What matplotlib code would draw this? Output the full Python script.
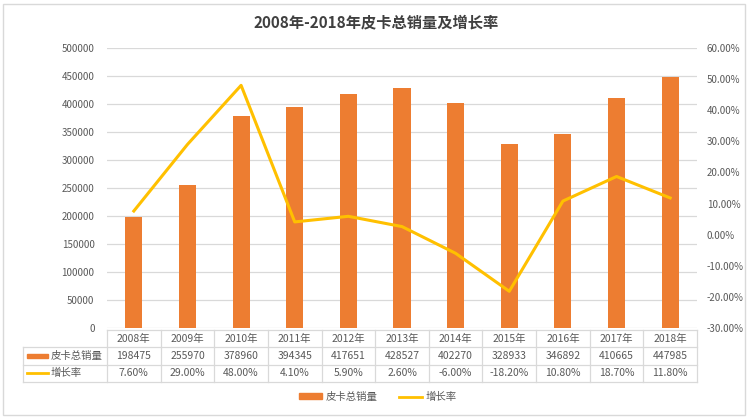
import matplotlib
matplotlib.use("Agg")
import matplotlib.pyplot as plt
from matplotlib.patches import Rectangle
from matplotlib.lines import Line2D

plt.rcParams['font.family'] = ['Noto Sans CJK SC', 'DejaVu Sans']

years = ['2008年', '2009年', '2010年', '2011年', '2012年', '2013年',
         '2014年', '2015年', '2016年', '2017年', '2018年']
sales = [198475, 255970, 378960, 394345, 417651, 428527,
         402270, 328933, 346892, 410665, 447985]
growth = [7.60, 29.00, 48.00, 4.10, 5.90, 2.60, -6.00, -18.20, 10.80, 18.70, 11.80]
bar_name = '皮卡总销量'
line_name = '增长率'
title = '2008年-2018年皮卡总销量及增长率'

W, H = 750, 419
BAR = '#ED7D31'
LINE = '#FFC000'
GRID = '#D9D9D9'
TXT = '#595959'

fig = plt.figure(figsize=(W / 100, H / 100), dpi=100)
fig.patch.set_facecolor('white')
fig.add_artist(Rectangle((3 / W, 4 / H), 742 / W, 411 / H, transform=fig.transFigure,
                         fill=False, edgecolor=GRID, linewidth=1))

L, R, T, B = 107, 697, 48, 328
ax = fig.add_axes([L / W, 1 - B / H, (R - L) / W, (B - T) / H])
n = len(years)
x = list(range(n))
ax.bar(x, sales, width=0.32, color=BAR, zorder=2, label=bar_name)
ax.set_xlim(-0.5, n - 0.5)
ax.set_ylim(0, 500000)
ax.set_yticks(range(0, 500001, 50000))
ax.set_yticklabels([str(v) for v in range(0, 500001, 50000)])
ax.yaxis.grid(True, color=GRID, linewidth=0.9, zorder=0)
ax.set_xticks([])
for s in ax.spines.values():
    s.set_visible(False)
ax.tick_params(axis='y', length=0, labelsize=7, labelcolor=TXT, pad=9)

ax2 = ax.twinx()
ax2.plot(x, growth, color=LINE, linewidth=2.2, zorder=3, label=line_name)
ax2.set_ylim(-30, 60)
ax2.set_yticks(range(-30, 61, 10))
ax2.set_yticklabels(['%.2f%%' % v for v in range(-30, 61, 10)])
for s in ax2.spines.values():
    s.set_visible(False)
ax2.tick_params(axis='y', length=0, labelsize=7, labelcolor=TXT, pad=7)

fig.text(376 / W, 1 - 22 / H, title, ha='center', va='center', fontsize=11,
         fontweight='bold', color='#404040')

# data table
TL = 23
cw = (R - L) / n
tax = fig.add_axes([TL / W, 1 - 382 / H, (R - TL) / W, (382 - 330) / H])
tax.set_xlim(-0.5 - (L - TL) / cw, n - 0.5)
tax.set_ylim(3, 0)
tax.axis('off')
lw = 0.9
x_left = -0.5 - (L - TL) / cw
tax.plot([-0.5, n - 0.5], [0, 0], color=GRID, lw=lw, clip_on=False)
for yy in (1, 2, 3):
    tax.plot([x_left, n - 0.5], [yy, yy], color=GRID, lw=lw, clip_on=False)
for i in range(n + 1):
    tax.plot([i - 0.5, i - 0.5], [0, 3], color=GRID, lw=lw, clip_on=False)
tax.plot([x_left, x_left], [1, 3], color=GRID, lw=lw, clip_on=False)
for i in range(n):
    tax.text(i, 0.5, years[i], ha='center', va='center', fontsize=7.5, color=TXT)
    tax.text(i, 1.5, str(sales[i]), ha='center', va='center', fontsize=7.5, color=TXT)
    tax.text(i, 2.5, '%.2f%%' % growth[i], ha='center', va='center', fontsize=7.5, color=TXT)
k0 = x_left + 4 / cw
k1 = x_left + 25 / cw
tax.add_patch(Rectangle((k0, 1.38), k1 - k0, 0.24, color=BAR, clip_on=False))
tax.plot([k0, k1], [2.5, 2.5], color=LINE, lw=2, clip_on=False)
tax.text(k1 + 3 / cw, 1.5, bar_name, ha='left', va='center', fontsize=7.5, color=TXT)
tax.text(k1 + 3 / cw, 2.5, line_name, ha='left', va='center', fontsize=7.5, color=TXT)

# bottom legend
h1 = Rectangle((0, 0), 1, 1, color=BAR)
h2 = Line2D([], [], color=LINE, lw=2)
fig.legend([h1, h2], [bar_name, line_name], loc='center', bbox_to_anchor=(378 / W, 1 - 397 / H),
           ncol=2, frameon=False, fontsize=7.5, labelcolor=TXT, handlelength=2.2,
           handleheight=0.5, columnspacing=2.0, handletextpad=0.4)

fig.savefig('out.png', dpi=100)
